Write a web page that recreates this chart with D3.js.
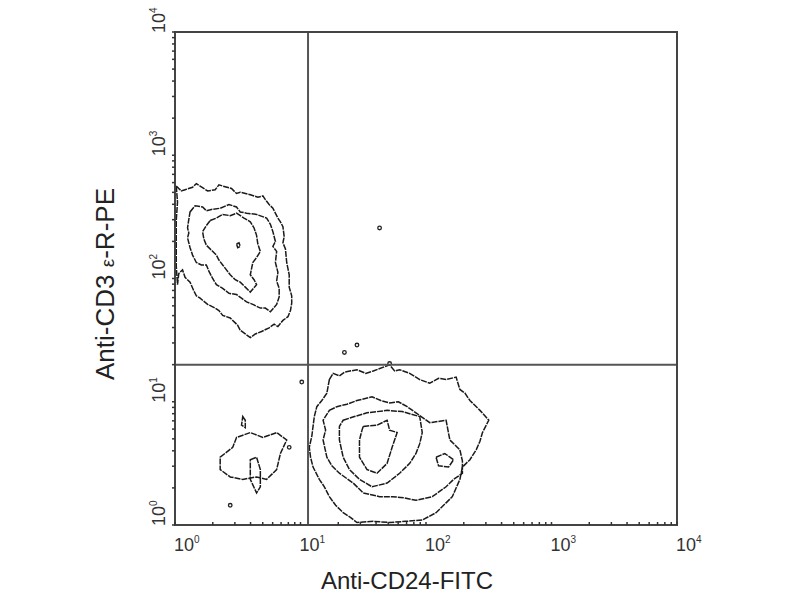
<!DOCTYPE html>
<html>
<head>
<meta charset="utf-8">
<script src="https://cdn.jsdelivr.net/npm/d3@7"></script>
<style>
  body { margin: 0; background: #fff; }
  svg { font-family: "Liberation Sans", Arial, sans-serif; }
</style>
</head>
<body>
<div id="chart"></div>
<script>
var width = 800,
    height = 600;

// all values are log10 of fluorescence (decades 0..4)
var decades = [0, 1, 2, 3, 4];
var gateX = 1.06,
    gateY = 1.30;

// CD3+ population (upper left)
var upperLeftRings = [
  [[0.01,2.75],[0.05,2.71],[0.08,2.72],[0.14,2.74],[0.17,2.77],[0.20,2.75],[0.26,2.71],[0.32,2.72],[0.35,2.76],[0.38,2.75],[0.45,2.73],[0.49,2.69],[0.52,2.70],[0.60,2.68],[0.66,2.66],[0.70,2.67],[0.72,2.64],[0.75,2.60],[0.78,2.57],[0.82,2.49],[0.84,2.46],[0.86,2.42],[0.87,2.34],[0.86,2.29],[0.88,2.24],[0.89,2.13],[0.90,2.08],[0.91,2.03],[0.91,1.93],[0.93,1.86],[0.93,1.80],[0.92,1.74],[0.90,1.69],[0.86,1.66],[0.82,1.61],[0.79,1.63],[0.75,1.60],[0.69,1.57],[0.64,1.55],[0.60,1.52],[0.56,1.55],[0.52,1.58],[0.50,1.62],[0.48,1.64],[0.44,1.68],[0.38,1.70],[0.35,1.74],[0.32,1.76],[0.26,1.79],[0.20,1.84],[0.17,1.86],[0.15,1.90],[0.12,1.97],[0.08,2.01],[0.06,2.07],[0.03,2.04],[0.02,1.95],[0.01,2.10],[0.01,2.23],[0.01,2.47],[0.02,2.62]],
  [[0.12,2.54],[0.16,2.59],[0.22,2.58],[0.25,2.55],[0.29,2.56],[0.36,2.57],[0.43,2.60],[0.49,2.58],[0.52,2.54],[0.57,2.53],[0.65,2.52],[0.73,2.49],[0.76,2.44],[0.78,2.38],[0.80,2.30],[0.78,2.26],[0.81,2.22],[0.80,2.13],[0.82,2.05],[0.81,1.98],[0.83,1.92],[0.83,1.85],[0.81,1.79],[0.76,1.73],[0.72,1.76],[0.68,1.76],[0.62,1.79],[0.57,1.81],[0.53,1.84],[0.49,1.87],[0.43,1.88],[0.38,1.92],[0.33,1.95],[0.30,2.00],[0.27,2.06],[0.25,2.11],[0.21,2.11],[0.17,2.13],[0.14,2.19],[0.12,2.25],[0.10,2.33],[0.11,2.37],[0.10,2.41],[0.11,2.48]],
  [[0.28,2.47],[0.33,2.49],[0.38,2.52],[0.44,2.51],[0.49,2.53],[0.55,2.49],[0.60,2.46],[0.63,2.41],[0.65,2.35],[0.66,2.28],[0.68,2.22],[0.65,2.17],[0.62,2.13],[0.61,2.08],[0.60,2.03],[0.63,1.99],[0.65,1.95],[0.60,1.89],[0.56,1.93],[0.52,1.97],[0.48,1.99],[0.44,2.03],[0.41,2.07],[0.38,2.11],[0.35,2.15],[0.33,2.19],[0.29,2.23],[0.25,2.27],[0.23,2.32],[0.22,2.38],[0.25,2.43]],
  [[0.49,2.28],[0.51,2.29],[0.52,2.26],[0.50,2.25]]
];

// CD24+ population (lower right)
var lowerRightRings = [
  [[1.23,1.18],[1.26,1.23],[1.31,1.21],[1.35,1.24],[1.45,1.26],[1.52,1.23],[1.58,1.25],[1.71,1.30],[1.75,1.25],[1.79,1.26],[1.87,1.23],[1.95,1.18],[2.03,1.15],[2.10,1.19],[2.16,1.18],[2.24,1.20],[2.27,1.10],[2.31,1.07],[2.35,1.01],[2.43,0.93],[2.50,0.85],[2.45,0.75],[2.43,0.68],[2.40,0.61],[2.35,0.53],[2.29,0.47],[2.27,0.37],[2.24,0.30],[2.21,0.23],[2.13,0.15],[2.08,0.10],[1.97,0.04],[1.84,0.03],[1.71,0.02],[1.58,0.03],[1.45,0.02],[1.40,0.06],[1.34,0.10],[1.28,0.16],[1.23,0.23],[1.19,0.31],[1.15,0.37],[1.10,0.47],[1.08,0.55],[1.07,0.63],[1.09,0.72],[1.10,0.80],[1.11,0.88],[1.13,0.96],[1.17,1.01],[1.21,1.07]],
  [[1.23,0.93],[1.29,0.96],[1.37,0.98],[1.45,1.01],[1.57,1.04],[1.64,1.01],[1.71,0.99],[1.78,1.00],[1.85,0.96],[1.92,0.91],[2.03,0.83],[2.16,0.85],[2.19,0.69],[2.27,0.61],[2.29,0.52],[2.29,0.42],[2.22,0.37],[2.16,0.31],[2.05,0.23],[1.92,0.20],[1.83,0.22],[1.73,0.23],[1.63,0.23],[1.50,0.26],[1.42,0.34],[1.31,0.42],[1.25,0.48],[1.21,0.55],[1.18,0.69],[1.20,0.77],[1.18,0.85]],
  [[1.34,0.85],[1.43,0.88],[1.53,0.91],[1.69,0.93],[1.81,0.92],[1.95,0.88],[1.97,0.75],[1.95,0.66],[1.92,0.58],[1.87,0.50],[1.79,0.42],[1.69,0.34],[1.57,0.31],[1.47,0.37],[1.39,0.45],[1.34,0.55],[1.31,0.69],[1.31,0.80]],
  [[1.50,0.80],[1.61,0.81],[1.69,0.85],[1.71,0.77],[1.77,0.75],[1.73,0.63],[1.69,0.50],[1.61,0.42],[1.53,0.45],[1.47,0.55],[1.47,0.69],[1.49,0.77]],
  [[2.08,0.55],[2.15,0.58],[2.22,0.53],[2.18,0.47],[2.10,0.48]]
];

// double negative population (lower left)
var lowerLeftRings = [
  [[0.36,0.55],[0.46,0.63],[0.49,0.71],[0.60,0.75],[0.70,0.71],[0.81,0.75],[0.89,0.69],[0.84,0.58],[0.81,0.45],[0.73,0.37],[0.65,0.39],[0.54,0.37],[0.44,0.39],[0.36,0.45]],
  [[0.60,0.53],[0.65,0.55],[0.68,0.45],[0.68,0.31],[0.65,0.26],[0.60,0.37]],
  [[0.54,0.88],[0.56,0.85],[0.56,0.79],[0.53,0.81]]
];

// isolated events
var specks = [[1.63,2.41],[1.45,1.46],[1.35,1.40],[0.44,0.16],[1.01,1.16],[1.71,1.31],[0.91,0.63]];

var xTitle = "Anti-CD24-FITC",
    yTitle = ["Anti-CD3 ", "\u03b5", "-R-PE"];

var x = d3.scaleLinear().domain([0, 4]).range([175, 677]),
    y = d3.scaleLinear().domain([0, 4]).range([525, 32]);

var svg = d3.select("#chart").append("svg")
    .attr("width", width)
    .attr("height", height);

var line = d3.line()
    .x(function(d) { return x(d[0]); })
    .y(function(d) { return y(d[1]); })
    .curve(d3.curveLinearClosed);

// contours
var rings = upperLeftRings.concat(lowerRightRings, lowerLeftRings);
svg.append("g").selectAll("path")
    .data(rings)
  .enter().append("path")
    .attr("d", line)
    .attr("fill", "none")
    .attr("stroke", "#1a1a1a")
    .attr("stroke-width", 1.5)
    .attr("stroke-dasharray", "6,1");

svg.append("g").selectAll("circle")
    .data(specks)
  .enter().append("circle")
    .attr("cx", function(d) { return x(d[0]); })
    .attr("cy", function(d) { return y(d[1]); })
    .attr("r", 1.8)
    .attr("fill", "none")
    .attr("stroke", "#222")
    .attr("stroke-width", 1.3);

// quadrant gate
svg.append("line")
    .attr("x1", x(gateX)).attr("x2", x(gateX))
    .attr("y1", y(4)).attr("y2", y(0))
    .attr("stroke", "#555").attr("stroke-width", 2);
svg.append("line")
    .attr("x1", x(0)).attr("x2", x(4))
    .attr("y1", y(gateY)).attr("y2", y(gateY))
    .attr("stroke", "#555").attr("stroke-width", 2);

// frame
svg.append("rect")
    .attr("x", x(0)).attr("y", y(4))
    .attr("width", x(4) - x(0)).attr("height", y(0) - y(4))
    .attr("fill", "none")
    .attr("stroke", "#444")
    .attr("stroke-width", 2);

// log ticks
var minor = [];
decades.slice(0, -1).forEach(function(d) {
  d3.range(2, 10).forEach(function(k) { minor.push(d + Math.log10(k)); });
});

svg.append("g").selectAll("line")
    .data(minor.concat(decades))
  .enter().append("line")
    .attr("x1", function(d) { return x(d); })
    .attr("x2", function(d) { return x(d); })
    .attr("y1", y(0))
    .attr("y2", y(0) - 3)
    .attr("stroke", "#333").attr("stroke-width", 1.5);

svg.append("g").selectAll("line")
    .data(minor.concat(decades))
  .enter().append("line")
    .attr("y1", function(d) { return y(d); })
    .attr("y2", function(d) { return y(d); })
    .attr("x1", x(0))
    .attr("x2", x(0) - 3)
    .attr("stroke", "#333").attr("stroke-width", 1.5);

// tick labels
var xl = svg.append("g").selectAll("text")
    .data(decades)
  .enter().append("text")
    .attr("x", function(d) { return x(d) - 1; })
    .attr("y", 551)
    .attr("fill", "#333")
    .style("font-size", "18px");
xl.append("tspan").text("10");
xl.append("tspan").attr("dy", -8).style("font-size", "10px").text(function(d) { return d; });

var yl = svg.append("g").selectAll("text")
    .data(decades)
  .enter().append("text")
    .attr("transform", function(d) { return "translate(165," + (y(d) + 1) + ") rotate(-90)"; })
    .attr("fill", "#333")
    .style("font-size", "18px");
yl.append("tspan").text("10");
yl.append("tspan").attr("dy", -8).style("font-size", "10px").text(function(d) { return d; });

// axis titles
svg.append("text")
    .attr("x", 407)
    .attr("y", 589)
    .attr("text-anchor", "middle")
    .attr("fill", "#222")
    .style("font-size", "24px")
    .text(xTitle);

var yt = svg.append("text")
    .attr("transform", "translate(114,284) rotate(-90)")
    .attr("text-anchor", "middle")
    .attr("fill", "#222")
    .style("font-size", "26px");
yt.append("tspan").text(yTitle[0]);
yt.append("tspan").style("font-size", "19px").text(yTitle[1]);
yt.append("tspan").text(yTitle[2]);
</script>
</body>
</html>
